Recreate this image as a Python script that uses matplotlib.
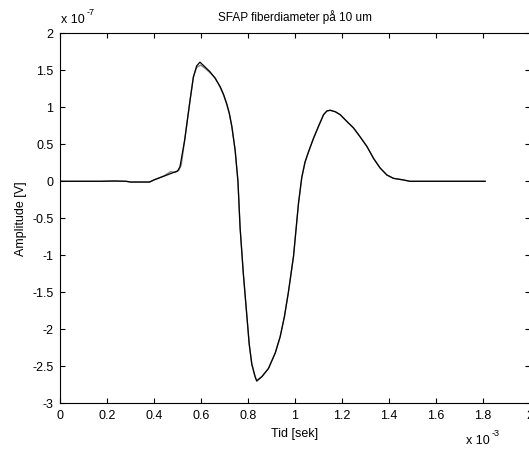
import matplotlib
matplotlib.use("Agg")
import matplotlib.pyplot as plt
import numpy as np

plt.rcParams['font.family'] = ['Liberation Sans', 'DejaVu Sans']

# time in ms (scaled by 1e-3), amplitude in 1e-7 V
t_black = [0.0, 0.17, 0.23, 0.28, 0.30, 0.38, 0.40, 0.45, 0.50, 0.51, 0.53, 0.553, 0.567,
           0.581, 0.595, 0.638, 0.66, 0.681, 0.695, 0.709, 0.72, 0.731, 0.745, 0.757, 0.766,
           0.780, 0.795, 0.805, 0.816, 0.830, 0.837, 0.859, 0.887, 0.916, 0.937,
           0.955, 0.972, 0.994, 1.015, 1.029, 1.043, 1.058, 1.079, 1.100, 1.122, 1.136,
           1.150, 1.172, 1.193, 1.221, 1.250, 1.278, 1.307, 1.335, 1.363, 1.392, 1.420,
           1.463, 1.49, 1.811]
a_black = [0.0, 0.0, 0.005, 0.0, -0.01, -0.01, 0.02, 0.08, 0.14, 0.2, 0.56, 1.1, 1.41,
           1.56, 1.61, 1.48, 1.39, 1.28, 1.18, 1.05, 0.92, 0.74, 0.42, 0.0, -0.62,
           -1.25, -1.82, -2.20, -2.47, -2.64, -2.70, -2.64, -2.53, -2.32, -2.10,
           -1.83, -1.50, -1.01, -0.30, 0.05, 0.26, 0.40, 0.58, 0.74, 0.90, 0.95,
           0.96, 0.94, 0.90, 0.81, 0.72, 0.60, 0.47, 0.31, 0.18, 0.085, 0.04,
           0.018, 0.0, 0.0]

t_gray = [0.0, 0.17, 0.28, 0.30, 0.38, 0.40, 0.44, 0.47, 0.49, 0.505, 0.515, 0.53, 0.553,
          0.567, 0.581, 0.598, 0.62, 0.66, 0.681, 0.695, 0.709, 0.72, 0.731, 0.745, 0.757,
          0.766, 0.780, 0.795, 0.805, 0.816, 0.830, 0.837, 0.859, 0.887, 0.916,
          0.937, 0.955, 0.972, 0.994, 1.015, 1.029, 1.043, 1.058, 1.079, 1.100, 1.122,
          1.136, 1.150, 1.172, 1.193, 1.221, 1.250, 1.278, 1.307, 1.335, 1.363, 1.392,
          1.420, 1.463, 1.49, 1.811]
a_gray = [0.0, 0.0, 0.0, -0.01, -0.01, 0.02, 0.07, 0.13, 0.12, 0.15, 0.22, 0.56, 1.1,
          1.41, 1.54, 1.57, 1.52, 1.40, 1.27, 1.17, 1.04, 0.92, 0.74, 0.42, 0.0,
          -0.62, -1.25, -1.82, -2.20, -2.47, -2.64, -2.69, -2.64, -2.53, -2.32,
          -2.10, -1.83, -1.50, -1.01, -0.30, 0.05, 0.26, 0.40, 0.58, 0.74, 0.90,
          0.95, 0.96, 0.94, 0.90, 0.81, 0.72, 0.60, 0.47, 0.31, 0.18, 0.085,
          0.04, 0.018, 0.0, 0.0]

x_ticks = [0, 0.2, 0.4, 0.6, 0.8, 1.0, 1.2, 1.4, 1.6, 1.8, 2.0]
x_labels = ['0', '0.2', '0.4', '0.6', '0.8', '1', '1.2', '1.4', '1.6', '1.8', '2']
y_ticks = [-3, -2.5, -2, -1.5, -1, -0.5, 0, 0.5, 1, 1.5, 2]
y_labels = ['-3', '-2.5', '-2', '-1.5', '-1', '-0.5', '0', '0.5', '1', '1.5', '2']

W, H = 529, 453
fig = plt.figure(figsize=(W / 100, H / 100), dpi=100)
left, right, top, bottom = 60.4, 529.5, 33.3, 403.3
ax = fig.add_axes([left / W, 1 - bottom / H, (right - left) / W, (bottom - top) / H])

ax.plot(t_gray, a_gray, color='#808080', lw=1.0)
ax.plot(t_black, a_black, color='black', lw=0.9)

ax.set_xlim(0, 2)
ax.set_ylim(-3, 2)
ax.set_xticks(x_ticks)
ax.set_xticklabels(x_labels)
ax.set_yticks(y_ticks)
ax.set_yticklabels(y_labels)
ax.tick_params(direction='in', length=3.6, width=0.8, top=True, right=True,
               labelsize=9)
ax.tick_params(axis='x', pad=4.5)
ax.tick_params(axis='y', pad=5)
for s in ax.spines.values():
    s.set_linewidth(0.8)

ax.set_xlabel('Tid [sek]', fontsize=9, labelpad=5)
ax.set_ylabel('Amplitude [V]', fontsize=9, labelpad=4)
ax.set_title('SFAP fiberdiameter på 10 um', fontsize=8.5, pad=9)

# exponent labels
fig.text(61 / W, 1 - 23 / H, 'x 10', fontsize=9, ha='left', va='baseline')
fig.text(87 / W, 1 - 15 / H, '-7', fontsize=6.5, ha='left', va='baseline')
fig.text(466 / W, 1 - 444 / H, 'x 10', fontsize=9, ha='left', va='baseline')
fig.text(492 / W, 1 - 436 / H, '-3', fontsize=6.5, ha='left', va='baseline')

fig.savefig('out.png', dpi=100)
